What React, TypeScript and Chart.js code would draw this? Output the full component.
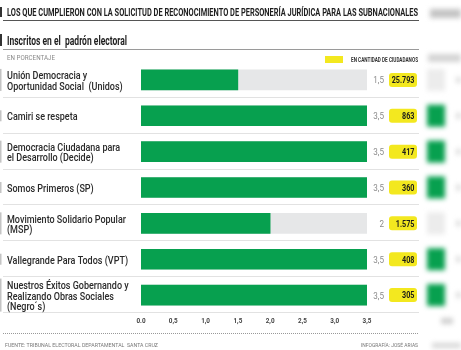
import { useEffect, useRef } from "react";
import { Chart, registerables } from "chart.js";
Chart.register(...registerables);

const title = "LOS QUE CUMPLIERON CON LA SOLICITUD DE RECONOCIMIENTO DE PERSONERÍA JURÍDICA PARA LAS SUBNACIONALES";
const subtitle = "Inscritos en el  padrón electoral";
const unitNote = "EN PORCENTAJE";
const legendText = "EN CANTIDAD DE CIUDADANOS";
const sourceText = "FUENTE: TRIBUNAL ELECTORAL DEPARTAMENTAL  SANTA CRUZ";
const creditText = "INFOGRAFÍA: JOSÉ ARIAS";

const categories: string[][] = [
  ["Unión Democracia y", "Oportunidad Social  (Unidos)"],
  ["Camiri se respeta"],
  ["Democracia Ciudadana para", "el Desarrollo (Decide)"],
  ["Somos Primeros (SP)"],
  ["Movimiento Solidario Popular", "(MSP)"],
  ["Vallegrande Para Todos (VPT)"],
  ["Nuestros Éxitos Gobernando y", "Realizando Obras Sociales", "(Negro´s)"],
];
const percentValues = [1.5, 3.5, 3.5, 3.5, 2, 3.5, 3.5];
const citizenCounts = [25793, 863, 417, 360, 1575, 408, 305];
const tickLabels = ["0.0", "0,5", "1,0", "1,5", "2,0", "2,5", "3,0", "3,5"];
const axisMax = 3.5;

const GREEN = "#07a04f";
const TRACK = "#e6e7e8";
const YELLOW = "#f3e81f";

function fmtCount(n: number) {
  return String(n).replace(/\B(?=(\d{3})+(?!\d))/g, ".");
}
function fmtPct(n: number) {
  return String(n).replace(".", ",");
}

function scaledText(ctx: CanvasRenderingContext2D, text: string, x: number, y: number, font: string, color: string, sx: number, align: "left" | "right" | "center" = "left") {
  ctx.save();
  ctx.font = font;
  ctx.fillStyle = color;
  ctx.textAlign = "left";
  ctx.textBaseline = "alphabetic";
  const w = ctx.measureText(text).width * sx;
  const left = align === "left" ? x : align === "right" ? x - w : x - w / 2;
  ctx.translate(left, y);
  ctx.scale(sx, 1);
  ctx.fillText(text, 0, 0);
  ctx.restore();
}
function fitText(ctx: CanvasRenderingContext2D, text: string, x: number, y: number, font: string, color: string, width: number) {
  ctx.save();
  ctx.font = font;
  const w = ctx.measureText(text).width;
  ctx.restore();
  scaledText(ctx, text, x, y, font, color, width / w, "left");
}
function hline(ctx: CanvasRenderingContext2D, x1: number, x2: number, y: number, color: string, dash?: number[]) {
  ctx.save();
  ctx.strokeStyle = color;
  ctx.lineWidth = 1;
  if (dash) ctx.setLineDash(dash);
  ctx.beginPath();
  ctx.moveTo(x1, y);
  ctx.lineTo(x2, y);
  ctx.stroke();
  ctx.restore();
}
function roundRect(ctx: CanvasRenderingContext2D, x: number, y: number, w: number, h: number, r: number, color: string) {
  ctx.save();
  ctx.fillStyle = color;
  ctx.beginPath();
  ctx.moveTo(x + r, y);
  ctx.arcTo(x + w, y, x + w, y + h, r);
  ctx.arcTo(x + w, y + h, x, y + h, r);
  ctx.arcTo(x, y + h, x, y, r);
  ctx.arcTo(x, y, x + w, y, r);
  ctx.closePath();
  ctx.fill();
  ctx.restore();
}

const decor = {
  id: "decor",
  afterDraw(chart: any) {
    const ctx: CanvasRenderingContext2D = chart.ctx;
    const xs = chart.scales.x;
    const ys = chart.scales.y;
    const half = (ys.getPixelForValue(1) - ys.getPixelForValue(0)) / 2;

    // header
    ctx.save();
    ctx.fillStyle = "#333";
    ctx.fillRect(0, 7, 2, 10);
    ctx.fillRect(0, 34, 2, 12);
    ctx.restore();
    fitText(ctx, title, 7, 15.5, "bold 11px Roboto", "#1e1e1e", 411);
    hline(ctx, 3, 419, 20.5, "#555");
    fitText(ctx, subtitle, 7, 44.5, "bold 12px Roboto", "#1e1e1e", 120);
    hline(ctx, 3, 419, 49.5, "#9a9a9a");
    fitText(ctx, unitNote, 7, 59.5, "6.5px Roboto", "#8a8a8a", 48);
    ctx.fillStyle = YELLOW;
    ctx.fillRect(325, 56, 18, 7);
    fitText(ctx, legendText, 351, 61.5, "bold 6.5px Roboto", "#333", 67);

    // rows
    categories.forEach((lines, i) => {
      const cy = ys.getPixelForValue(i);
      hline(ctx, 3, 419, Math.round(cy + half) - 0.5, "#e2e2e2");
      const lh = 10.5;
      lines.forEach((ln, k) => {
        const by = cy + 4.5 + (k - (lines.length - 1) / 2) * lh;
        scaledText(ctx, ln, 7, by, "500 10px Roboto", "#2a2a2a", 0.9, "left");
      });
      ctx.save();
      ctx.fillStyle = "#c4c4c4";
      ctx.fillRect(0, cy - lines.length * 5.5, 1.5, lines.length * 11);
      ctx.restore();
      scaledText(ctx, fmtPct(percentValues[i]), 384, cy + 3.5, "9.5px Roboto", "#8a8a8a", 0.85, "right");
      roundRect(ctx, 389, cy - 7, 28, 14, 3, YELLOW);
      scaledText(ctx, fmtCount(citizenCounts[i]), 414.5, cy + 3.3, "bold 9.5px Roboto", "#1a1a1a", 0.76, "right");
    });

    // x tick labels from the scale
    const ticks = xs.ticks && xs.ticks.length === tickLabels.length ? xs.ticks.map((t: any) => t.value) : tickLabels.map((t) => parseFloat(t.replace(",", ".")));
    ticks.forEach((v: number, i: number) => {
      scaledText(ctx, tickLabels[i], xs.getPixelForValue(v), 323, "bold 7.5px Roboto", "#444", 0.85, "center");
    });

    // footer
    hline(ctx, 3, 419, 333.5, "#999", [1, 1]);
    fitText(ctx, sourceText, 5, 347, "6px Roboto", "#777", 153);
    fitText(ctx, creditText, 361, 347, "6px Roboto", "#777", 57);

    // blurred neighbouring panel at the right edge
    ctx.save();
    ctx.filter = "blur(2.5px)";
    ctx.fillStyle = "#c4c4c4";
    ctx.fillRect(430, 9, 31, 9);
    ctx.fillStyle = "#d4d4d4";
    ctx.fillRect(428, 54, 33, 8);
    categories.forEach((_, i) => {
      const cy = ys.getPixelForValue(i);
      ctx.fillStyle = percentValues[i] >= axisMax ? GREEN : "#ececec";
      ctx.fillRect(427, cy - 11, 18, 22);
      ctx.fillStyle = "#dcdcdc";
      ctx.fillRect(456, cy - 3, 5, 6);
    });
    ctx.fillStyle = "#d0d0d0";
    ctx.fillRect(441, 318, 12, 6);
    ctx.fillStyle = "#d6d6d6";
    ctx.fillRect(432, 343, 29, 5);
    ctx.restore();
  },
};

export default function App() {
  const ref = useRef<HTMLCanvasElement | null>(null);
  useEffect(() => {
    if (!ref.current) return;
    const chart = new Chart(ref.current, {
      type: "bar",
      data: {
        labels: categories.map((c) => c.join(" ")),
        datasets: [
          { data: percentValues, backgroundColor: GREEN, barThickness: 20, grouped: false, order: 0 } as any,
          { data: categories.map(() => axisMax), backgroundColor: TRACK, barThickness: 20, grouped: false, order: 1 } as any,
        ],
      },
      options: {
        indexAxis: "y",
        responsive: false,
        animation: false,
        devicePixelRatio: 1,
        layout: { padding: { left: 141, right: 94, top: 62, bottom: 37 } },
        scales: {
          x: { display: false, min: 0, max: axisMax, ticks: { stepSize: 0.5 } },
          y: { display: false },
        },
        plugins: { legend: { display: false }, tooltip: { enabled: false } },
      },
      plugins: [decor],
    });
    return () => chart.destroy();
  }, []);
  return (
    <div style={{ position: "absolute", left: 0, top: 0, width: 461, height: 350, background: "#fff" }}>
      <canvas ref={ref} width={461} height={350} style={{ display: "block" }} />
    </div>
  );
}
